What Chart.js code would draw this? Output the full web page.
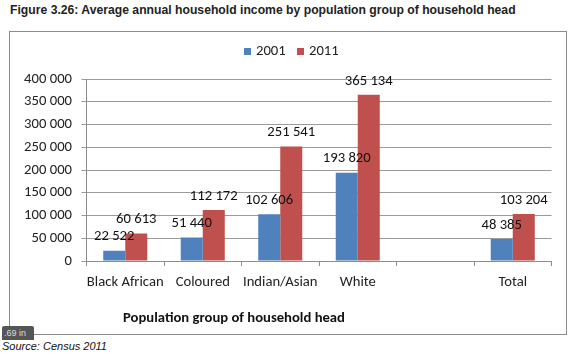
<!DOCTYPE html>
<html>
<head>
<meta charset="utf-8">
<script src="https://cdn.jsdelivr.net/npm/chart.js@4.4.1/dist/chart.umd.min.js"></script>
<style>
  body { margin: 0; background: #fff; width: 574px; height: 358px; position: relative; overflow: hidden; }
  #title { position: absolute; left: 10px; top: 3px; font: bold 12.2px "Liberation Sans", Arial, sans-serif; color: #222; white-space: nowrap; }
  #box { position: absolute; left: 9px; top: 31px; width: 556px; height: 302px; border: 1px solid #8c8c8c; }
  #source { position: absolute; left: 2px; top: 340px; font: italic 11px "Liberation Sans", Arial, sans-serif; color: #111; white-space: nowrap; }
  #badge { position: absolute; left: 2px; top: 326px; width: 30px; height: 14px; background: #555; color: #ddd; font: 9px "Liberation Sans", Arial, sans-serif; line-height: 14px; padding-left: 2px; border-radius: 2px 2px 0 0; }
</style>
</head>
<body>
<div id="title">Figure 3.26: Average annual household income by population group of household head</div>
<div id="box"><canvas id="chart" width="556" height="302"></canvas></div>
<div id="badge">.69 in</div>
<div id="source">Source: Census 2011</div>
<script>
// データ
const categories = ['Black African', 'Coloured', 'Indian/Asian', 'White', '', 'Total'];
const values2001 = [22522, 51440, 102606, 193820, null, 48385];
const values2011 = [60613, 112172, 251541, 365134, null, 103204];
const yTicks = [0, 50000, 100000, 150000, 200000, 250000, 300000, 350000, 400000];
const axisTitle = 'Population group of household head';

const FONT = 'Calibri, Carlito, Lato, sans-serif';
const SIZE = 14.67;

// 3桁区切り（スペース）
function fmt(v) {
    return String(v).replace(/\B(?=(\d{3})+(?!\d))/g, ' ');
}

// 棒の上に数値ラベル
const valueLabels = {
    id: 'valueLabels',
    afterDatasetsDraw(chart) {
        const ctx = chart.ctx;
        ctx.save();
        ctx.font = SIZE + 'px ' + FONT;
        ctx.fillStyle = '#111';
        ctx.textAlign = 'center';
        ctx.textBaseline = 'middle';
        chart.data.datasets.forEach((ds, i) => {
            chart.getDatasetMeta(i).data.forEach((bar, j) => {
                if (ds.data[j] == null) return;
                ctx.fillText(fmt(ds.data[j]), bar.x, bar.y - 14);
            });
        });
        ctx.restore();
    }
};

// 凡例と軸タイトル
const extras = {
    id: 'extras',
    afterDraw(chart) {
        const ctx = chart.ctx;
        ctx.save();
        // legend
        ctx.font = SIZE + 'px ' + FONT;
        ctx.textBaseline = 'middle';
        let x = 234;
        const y = 19;
        chart.data.datasets.forEach(ds => {
            ctx.fillStyle = ds.backgroundColor;
            ctx.fillRect(x, y - 3, 7, 7);
            ctx.fillStyle = '#222';
            ctx.textAlign = 'left';
            ctx.fillText(ds.label, x + 12, y);
            x += 53;
        });
        // x axis title
        ctx.font = 'bold ' + SIZE + 'px ' + FONT;
        ctx.textAlign = 'center';
        ctx.fillStyle = '#111';
        ctx.fillText(axisTitle, chart.chartArea.left + 147.5, 286);
        ctx.restore();
    }
};

new Chart(document.getElementById('chart'), {
    type: 'bar',
    data: {
        labels: categories,
        datasets: [
            { label: '2001', data: values2001, backgroundColor: '#4F81BD' },
            { label: '2011', data: values2011, backgroundColor: '#C0504D' }
        ]
    },
    options: {
        responsive: false,
        animation: false,
        layout: { padding: { top: 47, right: 14.5, left: 0, bottom: 0 } },
        datasets: { bar: { categoryPercentage: 0.568, barPercentage: 1 } },
        plugins: { legend: { display: false }, tooltip: { enabled: false } },
        scales: {
            x: {
                grid: { display: true, drawOnChartArea: false, offset: true, tickLength: 5, color: '#8c8c8c' },
                border: { color: '#8c8c8c' },
                ticks: { font: { family: FONT, size: SIZE }, color: '#222', padding: 8, maxRotation: 0, autoSkip: false },
                afterFit(scale) { scale.height = 73; }
            },
            y: {
                min: 0,
                max: 400000,
                afterBuildTicks(scale) { scale.ticks = yTicks.map(v => ({ value: v })); },
                grid: { color: '#9a9a9a', tickLength: 5 },
                border: { color: '#8c8c8c' },
                ticks: { font: { family: FONT, size: SIZE }, color: '#222', padding: 9.5, callback: v => fmt(v) },
                afterFit(scale) { scale.width = 76.5; }
            }
        }
    },
    plugins: [valueLabels, extras]
});
</script>
</body>
</html>
